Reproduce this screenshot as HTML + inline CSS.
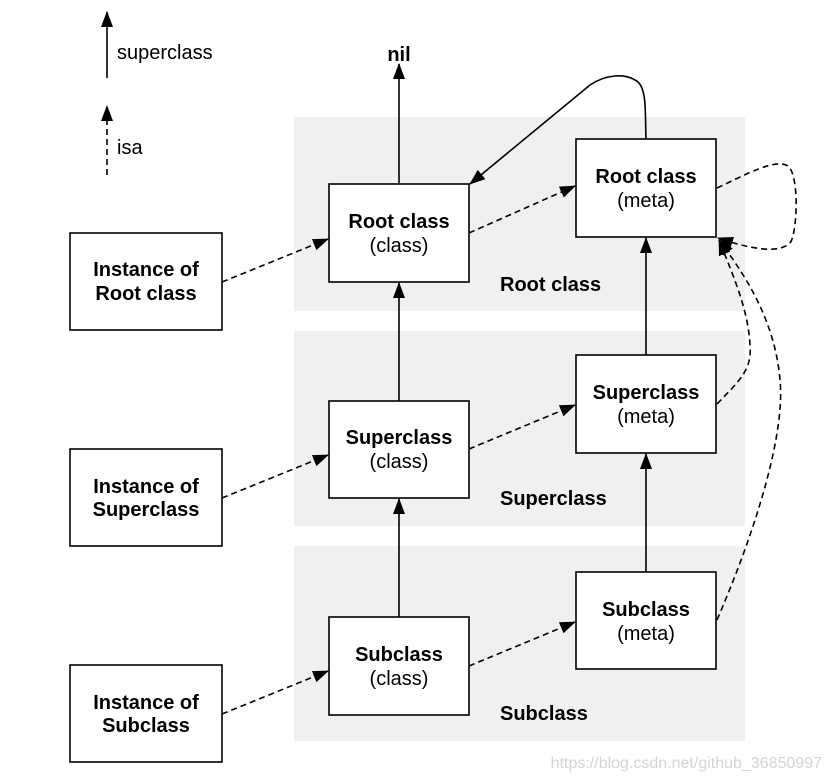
<!DOCTYPE html>
<html><head><meta charset="utf-8"><style>
html,body{margin:0;padding:0;background:#fff;}
svg{display:block;font-family:"Liberation Sans",Arial,sans-serif;}
</style></head><body>
<svg width="829" height="779" viewBox="0 0 829 779" xmlns="http://www.w3.org/2000/svg">
<defs>
<marker id="a" markerWidth="16" markerHeight="12" refX="15" refY="6" orient="auto" markerUnits="userSpaceOnUse">
<path d="M0,0 L16,6 L0,12 z" fill="#000"/></marker>
</defs>
<rect x="294" y="117" width="451" height="194" fill="#f0f0f0"/>
<rect x="294" y="331" width="451" height="195" fill="#f0f0f0"/>
<rect x="294" y="546" width="451" height="195" fill="#f0f0f0"/>

<g stroke="#000" stroke-width="1.6" fill="none">
<line x1="107" y1="78" x2="107" y2="12" marker-end="url(#a)"/>
<line x1="107" y1="175" x2="107" y2="106" stroke-dasharray="6,4" marker-end="url(#a)"/>
<line x1="399" y1="183" x2="399" y2="64" marker-end="url(#a)"/>
<line x1="399" y1="401" x2="399" y2="283" marker-end="url(#a)"/>
<line x1="399" y1="617" x2="399" y2="499" marker-end="url(#a)"/>
<line x1="646" y1="355" x2="646" y2="238" marker-end="url(#a)"/>
<line x1="646" y1="572" x2="646" y2="454" marker-end="url(#a)"/>
<path d="M646,139 C645,115 647,90 638,82 C625,72 605,75 590,85 L470,184" marker-end="url(#a)"/>
<g stroke-dasharray="6,4">
<line x1="222" y1="282" x2="328" y2="239" marker-end="url(#a)"/>
<line x1="222" y1="498" x2="328" y2="455" marker-end="url(#a)"/>
<line x1="222" y1="714" x2="328" y2="671" marker-end="url(#a)"/>
<line x1="469" y1="233" x2="575" y2="186" marker-end="url(#a)"/>
<line x1="469" y1="449" x2="575" y2="405" marker-end="url(#a)"/>
<line x1="469" y1="666" x2="575" y2="622" marker-end="url(#a)"/>
<path d="M717,188 C745,175 775,158 788,166 C800,176 797,235 790,243 C780,252 760,252 718,238" marker-end="url(#a)"/>
<path d="M717,404 C740,380 752,370 750,345 C748,310 735,280 719,240" marker-end="url(#a)"/>
<path d="M717,620 C760,520 785,430 780,380 C775,320 745,275 719,240" marker-end="url(#a)"/>
</g>
</g>

<g stroke="#000" stroke-width="1.6" fill="#fff">
<rect x="70" y="233" width="152" height="97"/>
<rect x="70" y="449" width="152" height="97"/>
<rect x="70" y="665" width="152" height="97"/>
<rect x="329" y="184" width="140" height="98"/>
<rect x="329" y="401" width="140" height="97"/>
<rect x="329" y="617" width="140" height="98"/>
<rect x="576" y="139" width="140" height="98"/>
<rect x="576" y="355" width="140" height="98"/>
<rect x="576" y="572" width="140" height="97"/>
</g>

<g font-size="20" text-anchor="middle" fill="#000">
<text x="146" y="276" font-weight="bold">Instance of</text>
<text x="146" y="300" font-weight="bold">Root class</text>
<text x="146" y="493" font-weight="bold">Instance of</text>
<text x="146" y="516" font-weight="bold">Superclass</text>
<text x="146" y="709" font-weight="bold">Instance of</text>
<text x="146" y="732" font-weight="bold">Subclass</text>
<text x="399" y="228" font-weight="bold">Root class</text>
<text x="399" y="252">(class)</text>
<text x="399" y="444" font-weight="bold">Superclass</text>
<text x="399" y="468">(class)</text>
<text x="399" y="661" font-weight="bold">Subclass</text>
<text x="399" y="685">(class)</text>
<text x="646" y="183" font-weight="bold">Root class</text>
<text x="646" y="207">(meta)</text>
<text x="646" y="399" font-weight="bold">Superclass</text>
<text x="646" y="423">(meta)</text>
<text x="646" y="616" font-weight="bold">Subclass</text>
<text x="646" y="640">(meta)</text>
<text x="399" y="61" font-weight="bold">nil</text>
</g>
<g font-size="20" font-weight="bold" fill="#000">
<text x="500" y="291">Root class</text>
<text x="500" y="505">Superclass</text>
<text x="500" y="720">Subclass</text>
</g>
<g font-size="20" fill="#000">
<text x="117" y="59">superclass</text>
<text x="117" y="154">isa</text>
</g>
<text x="822" y="768" font-size="16" fill="#d4d4d4" text-anchor="end">https://blog.csdn.net/github_36850997</text>
</svg>
</body></html>
